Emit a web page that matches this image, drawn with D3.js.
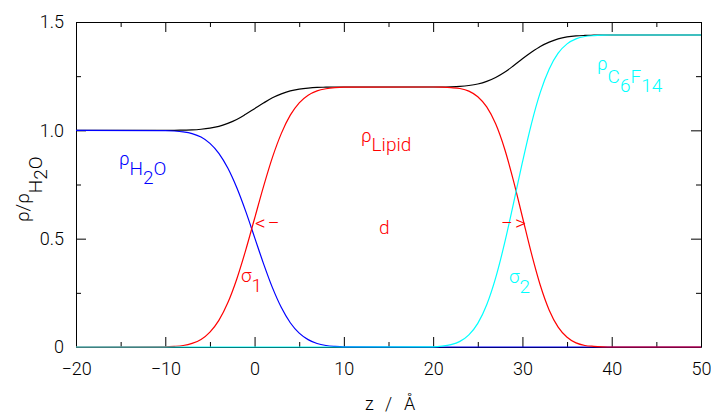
<!DOCTYPE html>
<html>
<head>
<meta charset="utf-8">
<script src="https://cdn.jsdelivr.net/npm/d3@7"></script>
<style>
  body { margin: 0; background: #fff; }
  svg { display: block; }
  text { font-family: Roboto, "Liberation Sans", sans-serif; font-weight: 300; }
</style>
</head>
<body>
<svg id="chart" width="711" height="413"></svg>
<script>
// ---- data ----
const zValues = [-20,
  -10, -9, -8, -7, -6, -5, -4, -3, -2, -1, 0, 1, 2, 3, 4, 5, 6, 7, 8, 9, 10,
  20, 21, 22, 23, 24, 25, 26, 27, 28, 29, 30, 31, 32, 33, 34, 35, 36, 37, 38, 39, 40,
  50];
const rhoWater = [1.0,
  0.999, 0.997, 0.993, 0.985, 0.969, 0.940, 0.894, 0.826, 0.736, 0.627, 0.506, 0.385, 0.274, 0.182, 0.112, 0.064, 0.034, 0.016, 0.007, 0.003, 0.001,
  0, 0, 0, 0, 0, 0, 0, 0, 0, 0, 0, 0, 0, 0, 0, 0, 0, 0, 0, 0, 0,
  0];
const rhoLipid = [0,
  0.001, 0.003, 0.007, 0.017, 0.035, 0.069, 0.123, 0.204, 0.313, 0.446, 0.593, 0.740, 0.875, 0.986, 1.070, 1.127, 1.162, 1.182, 1.192, 1.197, 1.199,
  1.200, 1.199, 1.197, 1.193, 1.181, 1.155, 1.108, 1.030, 0.915, 0.767, 0.600, 0.433, 0.285, 0.170, 0.092, 0.045, 0.019, 0.007, 0.003, 0.001, 0,
  0];
const rhoC6F14 = [0,
  0, 0, 0, 0, 0, 0, 0, 0, 0, 0, 0, 0, 0, 0, 0, 0, 0, 0, 0, 0, 0,
  0.001, 0.004, 0.011, 0.026, 0.056, 0.109, 0.195, 0.319, 0.479, 0.663, 0.853, 1.029, 1.175, 1.283, 1.356, 1.399, 1.422, 1.433, 1.437, 1.439, 1.440,
  1.44];
const rhoTotal = [1.0,
  1.000, 1.000, 1.001, 1.002, 1.005, 1.010, 1.018, 1.032, 1.050, 1.074, 1.100, 1.126, 1.150, 1.168, 1.182, 1.190, 1.195, 1.198, 1.199, 1.200, 1.200,
  1.200, 1.200, 1.201, 1.203, 1.207, 1.214, 1.226, 1.244, 1.268, 1.298, 1.330, 1.360, 1.387, 1.407, 1.422, 1.431, 1.436, 1.438, 1.439, 1.440, 1.440,
  1.44];

const xMajorTicks = [-20, -10, 0, 10, 20, 30, 40, 50];
const xMinorTicks = [-15, -5, 5, 15, 25, 35, 45];
const yMajorTicks = [0, 0.5, 1.0, 1.5];
const yMinorTicks = [0.25, 0.75, 1.25];
const yTickLabels = ["0", "0.5", "1.0", "1.5"];

(function () {
// ---- layout ----
const svg = d3.select("#chart");
const mLeft = 76, mRight = 701, mTop = 22, mBottom = 347;
const x = d3.scaleLinear().domain([-20, 50]).range([mLeft, mRight]);
const y = d3.scaleLinear().domain([0, 1.5]).range([mBottom, mTop]);

const fontSize = 18;
const annSize = 19;

function styleAxis(g) {
  g.selectAll("path.domain").attr("stroke", "#000").attr("stroke-width", 1);
  g.selectAll(".tick line").attr("stroke", "#000").attr("stroke-width", 1);
  g.selectAll(".tick text").attr("font-size", fontSize).attr("fill", "#000")
    .attr("font-family", "Roboto, 'Liberation Sans', sans-serif").attr("font-weight", 300);
}

// bottom
const gB = svg.append("g").attr("transform", `translate(0,${mBottom})`)
  .call(d3.axisBottom(x).tickValues(xMajorTicks).tickSize(-10).tickSizeOuter(0).tickPadding(15)
    .tickFormat(d3.format("d")));
styleAxis(gB);
svg.append("g").attr("transform", `translate(0,${mBottom})`)
  .call(d3.axisBottom(x).tickValues(xMinorTicks).tickSize(-5).tickSizeOuter(0).tickFormat(""))
  .call(g => { g.select("path.domain").remove(); styleAxis(g); });

// top
const gT = svg.append("g").attr("transform", `translate(0,${mTop})`)
  .call(d3.axisTop(x).tickValues(xMajorTicks).tickSize(-10).tickSizeOuter(0).tickFormat(""));
styleAxis(gT);
svg.append("g").attr("transform", `translate(0,${mTop})`)
  .call(d3.axisTop(x).tickValues(xMinorTicks).tickSize(-5).tickSizeOuter(0).tickFormat(""))
  .call(g => { g.select("path.domain").remove(); styleAxis(g); });

// left
const gL = svg.append("g").attr("transform", `translate(${mLeft},0)`)
  .call(d3.axisLeft(y).tickValues(yMajorTicks).tickSize(-10).tickSizeOuter(0).tickPadding(12)
    .tickFormat((d, i) => yTickLabels[i]));
styleAxis(gL);
svg.append("g").attr("transform", `translate(${mLeft},0)`)
  .call(d3.axisLeft(y).tickValues(yMinorTicks).tickSize(-5).tickSizeOuter(0).tickFormat(""))
  .call(g => { g.select("path.domain").remove(); styleAxis(g); });

// right
const gR = svg.append("g").attr("transform", `translate(${mRight},0)`)
  .call(d3.axisRight(y).tickValues(yMajorTicks).tickSize(-10).tickSizeOuter(0).tickFormat(""));
styleAxis(gR);
svg.append("g").attr("transform", `translate(${mRight},0)`)
  .call(d3.axisRight(y).tickValues(yMinorTicks).tickSize(-5).tickSizeOuter(0).tickFormat(""))
  .call(g => { g.select("path.domain").remove(); styleAxis(g); });

// ---- curves ----
const series = [
  { values: rhoTotal, color: "#000000" },
  { values: rhoWater, color: "#0000ff" },
  { values: rhoLipid, color: "#ff0000" },
  { values: rhoC6F14, color: "#00ffff" }
];
const line = d3.line()
  .x((d, i) => x(zValues[i]))
  .y(d => y(d))
  .curve(d3.curveMonotoneX);
svg.append("g").selectAll("path").data(series).join("path")
  .attr("d", s => line(s.values))
  .attr("fill", "none")
  .attr("stroke", s => s.color)
  .attr("stroke-width", 1.2);

// ---- annotations ----
const ann = svg.append("g").attr("font-size", annSize);

// rho_H2O
const tW = ann.append("text").attr("x", 119).attr("y", 165).attr("fill", "#0000ff");
tW.append("tspan").text("ρ");
tW.append("tspan").attr("dy", 10).text("H");
tW.append("tspan").attr("dy", 9).text("2");
tW.append("tspan").attr("dy", -9).text("O");

// rho_Lipid
const tL = ann.append("text").attr("x", 361).attr("y", 142).attr("fill", "#ff0000");
tL.append("tspan").text("ρ");
tL.append("tspan").attr("dy", 9).text("Lipid");

// rho_C6F14
const tC = ann.append("text").attr("x", 597).attr("y", 70).attr("fill", "#00ffff");
tC.append("tspan").text("ρ");
tC.append("tspan").attr("dy", 13).text("C");
tC.append("tspan").attr("dy", 9).text("6");
tC.append("tspan").attr("dy", -9).text("F");
tC.append("tspan").attr("dy", 9).text("14");

// sigma_1
const s1 = ann.append("text").attr("x", 241).attr("y", 282).attr("fill", "#ff0000");
s1.append("tspan").text("σ");
s1.append("tspan").attr("dy", 10).text("1");

// sigma_2
const s2 = ann.append("text").attr("x", 509).attr("y", 283).attr("fill", "#00ffff");
s2.append("tspan").text("σ");
s2.append("tspan").attr("dy", 10).text("2");

// d and arrows
ann.append("text").attr("x", 379).attr("y", 234).attr("fill", "#ff0000").text("d");
ann.append("text").attr("x", 255).attr("y", 230).attr("font-size", 21).attr("fill", "#ff0000").attr("letter-spacing", 2).text("<−");
ann.append("text").attr("x", 501).attr("y", 230).attr("font-size", 21).attr("fill", "#ff0000").attr("letter-spacing", 2).text("−>");

// axis titles
const xt = svg.append("text").attr("y", 410).attr("font-size", fontSize).attr("fill", "#000");
xt.append("tspan").attr("x", 365).text("z");
xt.append("tspan").attr("x", 385).text("/");
xt.append("tspan").attr("x", 404).text("Å");

const yt = svg.append("text").attr("transform", "translate(29,222) rotate(-90)")
  .attr("font-size", annSize).attr("fill", "#000");
yt.append("tspan").text("ρ/ρ");
yt.append("tspan").attr("dy", 13).text("H");
yt.append("tspan").attr("dy", 5).text("2");
yt.append("tspan").attr("dy", -5).text("O");
})();
</script>
</body>
</html>
